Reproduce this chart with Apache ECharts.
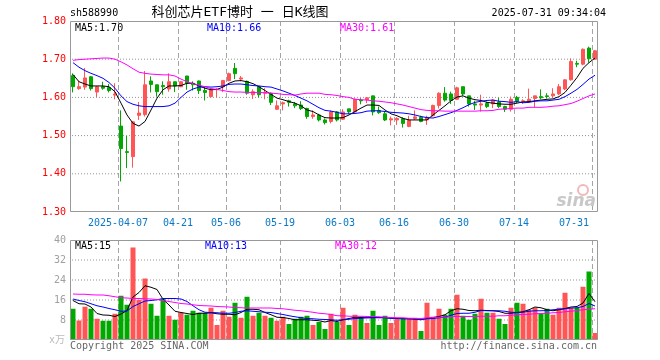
<!DOCTYPE html>
<html><head><meta charset="utf-8">
<script src="https://cdn.jsdelivr.net/npm/echarts@6/dist/echarts.min.js"></script>
<style>html,body{margin:0;padding:0;background:#fff}#c{width:660px;height:360px}</style>
</head><body><div id="c"></div>
<script>
const dates = [
'2025-03-25','2025-03-26','2025-03-27','2025-03-28','2025-03-31',
'2025-04-01','2025-04-02','2025-04-03',
'2025-04-07','2025-04-08','2025-04-09','2025-04-10','2025-04-11',
'2025-04-14','2025-04-15','2025-04-16','2025-04-17','2025-04-18',
'2025-04-21','2025-04-22','2025-04-23','2025-04-24','2025-04-25',
'2025-04-28','2025-04-29','2025-04-30',
'2025-05-06','2025-05-07','2025-05-08','2025-05-09',
'2025-05-12','2025-05-13','2025-05-14','2025-05-15','2025-05-16',
'2025-05-19','2025-05-20','2025-05-21','2025-05-22','2025-05-23',
'2025-05-26','2025-05-27','2025-05-28','2025-05-29','2025-05-30',
'2025-06-03','2025-06-04','2025-06-05','2025-06-06',
'2025-06-09','2025-06-10','2025-06-11','2025-06-12','2025-06-13',
'2025-06-16','2025-06-17','2025-06-18','2025-06-19','2025-06-20',
'2025-06-23','2025-06-24','2025-06-25','2025-06-26','2025-06-27',
'2025-06-30',
'2025-07-01','2025-07-02','2025-07-03','2025-07-04',
'2025-07-07','2025-07-08','2025-07-09','2025-07-10','2025-07-11',
'2025-07-14','2025-07-15','2025-07-16','2025-07-17','2025-07-18',
'2025-07-21','2025-07-22','2025-07-23','2025-07-24','2025-07-25',
'2025-07-28','2025-07-29','2025-07-30','2025-07-31'
];
const tickDates = ['2025-04-07','2025-04-21','2025-05-06','2025-05-19','2025-06-03','2025-06-16','2025-06-30','2025-07-14','2025-07-31'];

const opens = [1.657,1.623,1.627,1.654,1.614,1.628,1.626,1.606,1.525,1.458,
1.445,1.553,1.555,1.643,1.633,1.631,1.622,1.641,1.628,1.656,
1.637,1.643,1.618,1.602,1.620,1.628,1.644,1.676,1.648,1.642,
1.607,1.628,1.611,1.611,1.569,1.583,1.591,1.583,1.580,1.571,
1.550,1.554,1.541,1.537,1.562,1.543,1.570,1.562,1.593,1.594,
1.604,1.566,1.557,1.541,1.541,1.544,1.524,1.545,1.548,1.541,
1.552,1.579,1.611,1.609,1.595,1.628,1.604,1.583,1.580,1.584,
1.583,1.588,1.576,1.569,1.600,1.589,1.590,1.597,1.602,1.604,
1.604,1.609,1.622,1.646,1.689,1.687,1.729,1.700];
const closes = [1.628,1.628,1.651,1.623,1.628,1.624,1.618,1.609,1.466,1.456,
1.536,1.559,1.633,1.634,1.615,1.628,1.641,1.630,1.641,1.637,
1.633,1.618,1.613,1.621,1.621,1.644,1.662,1.662,1.651,1.611,
1.615,1.607,1.613,1.587,1.578,1.586,1.587,1.578,1.571,1.550,
1.554,1.541,1.534,1.562,1.541,1.562,1.562,1.595,1.591,1.599,
1.562,1.560,1.541,1.544,1.545,1.532,1.540,1.549,1.537,1.548,
1.579,1.611,1.593,1.592,1.625,1.609,1.583,1.580,1.583,1.576,
1.593,1.576,1.569,1.595,1.590,1.591,1.595,1.604,1.599,1.602,
1.609,1.628,1.646,1.694,1.687,1.726,1.701,1.722];
const lows = [1.613,1.620,1.620,1.618,1.601,1.620,1.613,1.595,1.380,1.415,
1.416,1.541,1.550,1.613,1.602,1.607,1.615,1.614,1.627,1.620,
1.618,1.609,1.592,1.600,1.600,1.614,1.642,1.648,1.642,1.607,
1.596,1.600,1.595,1.580,1.567,1.566,1.576,1.572,1.567,1.544,
1.544,1.537,1.529,1.532,1.537,1.541,1.557,1.560,1.582,1.585,
1.553,1.557,1.538,1.527,1.528,1.521,1.522,1.541,1.535,1.528,
1.550,1.571,1.589,1.583,1.594,1.604,1.576,1.567,1.563,1.572,
1.572,1.572,1.562,1.563,1.585,1.583,1.586,1.574,1.595,1.597,
1.599,1.606,1.619,1.644,1.679,1.684,1.691,1.698];
const highs = [1.663,1.644,1.677,1.656,1.630,1.641,1.635,1.637,1.566,1.499,
1.538,1.588,1.669,1.655,1.633,1.642,1.663,1.641,1.643,1.656,
1.642,1.644,1.628,1.624,1.624,1.646,1.665,1.690,1.656,1.644,
1.621,1.628,1.624,1.613,1.592,1.589,1.594,1.588,1.590,1.573,
1.566,1.557,1.545,1.566,1.564,1.569,1.570,1.597,1.598,1.600,
1.604,1.576,1.563,1.550,1.548,1.548,1.552,1.566,1.552,1.552,
1.581,1.613,1.627,1.615,1.628,1.628,1.604,1.591,1.607,1.589,
1.595,1.599,1.578,1.602,1.604,1.595,1.623,1.604,1.621,1.611,
1.624,1.635,1.647,1.702,1.696,1.728,1.733,1.724];

const ma5 = [1.660,1.641,1.635,1.630,1.630,1.630,1.628,1.615,1.585,1.554,
1.532,1.525,1.537,1.567,1.598,1.620,1.630,1.630,1.631,1.637,
1.637,1.630,1.624,1.620,1.621,1.627,1.637,1.643,1.644,1.641,
1.636,1.628,1.618,1.608,1.598,1.594,1.589,1.585,1.578,1.567,
1.563,1.554,1.547,1.546,1.546,1.547,1.554,1.563,1.572,1.580,
1.580,1.579,1.567,1.557,1.552,1.545,1.541,1.541,1.541,1.541,
1.554,1.566,1.578,1.591,1.601,1.604,1.598,1.594,1.592,1.587,
1.585,1.583,1.582,1.582,1.585,1.588,1.589,1.591,1.593,1.595,
1.596,1.602,1.613,1.632,1.652,1.676,1.691,1.703];
const ma10 = [1.691,1.679,1.670,1.663,1.657,1.650,1.639,1.624,1.604,1.589,
1.582,1.578,1.576,1.576,1.576,1.576,1.578,1.585,1.600,1.614,
1.622,1.627,1.628,1.627,1.628,1.630,1.634,1.635,1.635,1.633,
1.631,1.630,1.628,1.627,1.622,1.617,1.611,1.605,1.598,1.591,
1.582,1.573,1.566,1.564,1.561,1.557,1.557,1.558,1.560,1.564,
1.565,1.565,1.563,1.561,1.560,1.559,1.557,1.554,1.550,1.547,
1.546,1.550,1.555,1.560,1.566,1.573,1.581,1.587,1.590,1.592,
1.593,1.590,1.589,1.587,1.589,1.586,1.587,1.590,1.591,1.591,
1.593,1.595,1.602,1.611,1.621,1.634,1.648,1.658];
const ma30 = [1.697,1.699,1.700,1.701,1.702,1.703,1.703,1.700,1.693,1.685,
1.675,1.666,1.663,1.661,1.660,1.659,1.659,1.656,1.648,1.641,
1.636,1.632,1.628,1.623,1.621,1.618,1.615,1.614,1.614,1.613,
1.613,1.613,1.612,1.611,1.610,1.608,1.607,1.606,1.609,1.611,
1.611,1.611,1.608,1.607,1.605,1.602,1.600,1.595,1.594,1.593,
1.591,1.590,1.588,1.586,1.583,1.580,1.576,1.572,1.568,1.566,
1.565,1.565,1.564,1.564,1.564,1.564,1.564,1.564,1.565,1.565,
1.566,1.569,1.570,1.571,1.572,1.572,1.574,1.574,1.574,1.575,
1.577,1.578,1.581,1.584,1.590,1.597,1.604,1.609];

const volumes = [12.5,7.8,13.3,12.5,8.5,7.7,7.7,10.5,17.7,14.1,
37.0,16.1,24.6,14.5,9.7,16.5,9.7,8.1,10.9,10.1,
11.7,10.9,10.9,12.9,6.0,11.7,9.3,14.9,8.9,17.3,
9.7,10.9,9.7,8.9,7.7,9.3,6.4,8.5,9.3,9.7,
6.0,7.2,4.4,10.5,7.2,12.9,6.0,10.1,9.3,6.8,
11.7,6.0,9.7,6.8,8.5,8.5,8.5,8.5,3.6,14.9,
9.3,12.5,10.1,12.5,18.1,9.7,8.1,10.5,16.5,10.9,
10.9,8.5,6.4,12.9,14.9,14.5,12.1,12.9,10.5,12.5,
10.1,12.9,18.9,12.9,12.9,21.3,27.4,2.8];
const vma5 = [15.8,14.5,14.4,13.2,10.6,10.0,9.9,9.4,10.4,11.8,
17.2,19.0,21.7,21.1,20.2,16.3,14.0,11.5,11.0,10.6,
10.2,10.7,10.7,10.9,10.5,10.3,10.3,10.1,11.0,12.3,
12.3,12.1,11.0,10.1,9.1,9.0,8.6,8.1,8.1,8.1,
7.9,7.7,7.2,7.8,7.4,8.1,8.6,9.1,9.0,8.9,
9.0,9.0,9.0,8.7,8.6,8.5,8.5,8.3,8.1,8.6,
9.0,9.4,10.1,11.7,12.5,12.3,11.8,11.7,11.9,11.8,
11.7,11.4,10.7,10.7,11.0,11.3,12.1,13.2,12.9,12.1,
11.7,12.1,12.6,13.2,13.4,14.8,18.6,15.3];
const vma10 = [16.4,15.8,15.3,14.5,13.7,13.2,12.6,12.1,11.5,11.6,
13.4,14.5,15.6,15.8,16.1,16.6,16.6,16.6,16.4,15.4,
13.7,12.1,11.1,11.0,10.9,10.7,10.7,11.0,11.5,11.7,
11.5,11.3,11.1,11.0,10.6,10.2,9.7,9.3,8.9,8.6,
8.5,8.3,8.2,8.1,7.9,8.1,8.3,8.6,8.7,8.9,
8.9,8.9,8.9,8.7,8.7,8.6,8.5,8.5,8.3,8.5,
8.6,8.9,9.1,9.9,10.6,10.7,10.7,11.1,11.8,11.7,
11.7,11.7,11.5,11.1,11.0,11.1,11.5,11.7,11.7,11.8,
12.1,12.3,12.5,12.8,12.9,13.4,14.6,13.6];
const vma30 = [18.4,18.3,18.3,18.1,18.0,18.0,17.7,17.3,16.9,16.8,
16.6,16.6,16.5,16.4,16.2,15.8,15.4,15.0,14.6,14.4,
14.1,13.8,13.7,13.6,13.4,13.3,13.2,13.0,12.9,12.8,
12.8,12.8,12.8,12.8,12.6,12.5,12.2,11.9,11.7,11.4,
11.1,10.7,10.5,10.2,9.7,9.7,9.5,9.5,9.5,9.4,
9.4,9.3,9.1,9.0,8.9,8.9,8.7,8.7,8.6,8.9,
9.0,9.1,9.1,9.3,9.4,9.4,9.4,9.4,9.5,9.5,
9.5,9.7,9.7,9.9,10.1,10.2,10.3,10.5,10.6,10.7,
10.9,11.0,11.3,11.5,11.8,12.1,12.3,12.5];

const priceTicks = [1.30,1.40,1.50,1.60,1.70,1.80];
const volTicks = [0,8,16,24,32,40];

const RED = '#ff5555', GREEN = '#00a800';
const MONO = '"DejaVu Sans Mono", "Liberation Mono", monospace';
const tickIdxArr = tickDates.map(d => dates.indexOf(d));
const tickIdx = new Set(tickIdxArr);
const candleData = dates.map((d, i) => [opens[i], closes[i], lows[i], highs[i]]);
const volData = volumes.map((v, i) => ({value: v, itemStyle: {color: closes[i] >= opens[i] ? RED : GREEN}}));
const last = dates.length - 1;
const N = dates.length;

function txt(x, y, text, color, align, font) {
  return {type: 'text', x: x, y: y, silent: true, z: 100,
    style: {text: text, fill: color, font: font || ('10px ' + MONO), align: align || 'left', verticalAlign: 'middle'}};
}
const GL = 70, GW = 528;
const GRIDS = [{top: 21, height: 191, ticks: priceTicks}, {top: 240, height: 100, ticks: volTicks}];

// Grid lines as broken line series (solid pieces separated by gaps), in axis units:
// x in category-index units on a hidden value axis spanning the same bands, y in the panel's value units.
function gridLineSeries(g) {
  const t = GRIDS[g].ticks, lo = t[0], hi = t[t.length - 1];
  const perPxY = (hi - lo) / GRIDS[g].height, perPxX = N / GW;
  const vertical = [];
  tickIdxArr.forEach(i => {
    const xv = i + 0.5 * perPxX;
    for (let p = 0; p < GRIDS[g].height; p += 8) {
      vertical.push([xv, hi - p * perPxY], [xv, hi - Math.min(p + 5, GRIDS[g].height) * perPxY], null);
    }
  });
  const dots = [];
  t.slice(1, -1).forEach(v => {
    for (let p = 2; p < GW - 1; p += 3) {
      dots.push([p * perPxX, v], [(p + 1) * perPxX, v], null);
    }
  });
  return [
    {type: 'line', xAxisIndex: 2 + g, yAxisIndex: g, data: vertical, symbol: 'none', connectNulls: false, silent: true,
      lineStyle: {color: '#a4a4a4', width: 1}, z: 1},
    {type: 'line', xAxisIndex: 2 + g, yAxisIndex: g, data: dots, symbol: 'none', connectNulls: false, silent: true,
      lineStyle: {color: '#959595', width: 1}, z: 1}
  ];
}

const chart = echarts.init(document.getElementById('c'), null, {renderer: 'canvas'});
const option = {
  animation: false,
  backgroundColor: '#fff',
  // grid frames are drawn as plain outlines (no filled grid background) so nothing can cover the grid lines
  grid: GRIDS.map(g => ({left: GL, width: GW, top: g.top, height: g.height, show: false,
    outerBoundsMode: 'none', containLabel: false})),
  xAxis: [
    {type: 'category', gridIndex: 0, data: dates, boundaryGap: true,
      axisLine: {show: false}, axisTick: {show: false},
      axisLabel: {show: true, interval: (i) => tickIdx.has(i), color: '#0a78c8', fontFamily: MONO, fontSize: 10, margin: 6,
        padding: [0, 6, 0, 0], alignMaxLabel: 'right', hideOverlap: false,
        formatter: (v, i) => (i === tickIdxArr[0] ? v : v.slice(5))},
      splitLine: {show: false}},
    {type: 'category', gridIndex: 1, data: dates, boundaryGap: true,
      axisLine: {show: false}, axisTick: {show: false}, axisLabel: {show: false},
      splitLine: {show: false}},
    {type: 'value', gridIndex: 0, min: 0, max: N, show: false},
    {type: 'value', gridIndex: 1, min: 0, max: N, show: false}
  ],
  yAxis: [
    {type: 'value', gridIndex: 0, min: priceTicks[0], max: priceTicks[priceTicks.length - 1], interval: 0.1,
      axisLine: {show: false}, axisTick: {show: false},
      axisLabel: {color: '#ff0000', fontFamily: MONO, fontSize: 10, margin: 4, formatter: v => v.toFixed(2)},
      splitLine: {show: false}},
    {type: 'value', gridIndex: 1, min: volTicks[0], max: volTicks[volTicks.length - 1], interval: 8,
      axisLine: {show: false}, axisTick: {show: false},
      axisLabel: {color: '#a0a0a0', fontFamily: MONO, fontSize: 10, margin: 4, formatter: v => (v === 0 ? '' : String(v))},
      splitLine: {show: false}}
  ],
  series: [
    ...gridLineSeries(0),
    ...gridLineSeries(1),
    {type: 'candlestick', xAxisIndex: 0, yAxisIndex: 0, data: candleData, barWidth: 4,
      itemStyle: {color: RED, color0: GREEN, borderColor: RED, borderColor0: GREEN, borderWidth: 1}, z: 2},
    {type: 'line', xAxisIndex: 0, yAxisIndex: 0, data: ma5, symbol: 'none', lineStyle: {color: '#000', width: 1}, z: 3},
    {type: 'line', xAxisIndex: 0, yAxisIndex: 0, data: ma10, symbol: 'none', lineStyle: {color: '#0000ff', width: 1}, z: 3},
    {type: 'line', xAxisIndex: 0, yAxisIndex: 0, data: ma30, symbol: 'none', lineStyle: {color: '#ff00ff', width: 1}, z: 3},
    {type: 'bar', xAxisIndex: 1, yAxisIndex: 1, data: volData, barWidth: 5, z: 2},
    {type: 'line', xAxisIndex: 1, yAxisIndex: 1, data: vma5, symbol: 'none', lineStyle: {color: '#000', width: 1}, z: 3},
    {type: 'line', xAxisIndex: 1, yAxisIndex: 1, data: vma10, symbol: 'none', lineStyle: {color: '#0000ff', width: 1}, z: 3},
    {type: 'line', xAxisIndex: 1, yAxisIndex: 1, data: vma30, symbol: 'none', lineStyle: {color: '#ff00ff', width: 1}, z: 3}
  ],
  graphic: [
    ...GRIDS.map(g => ({type: 'rect', silent: true, z: 90,
      shape: {x: GL + 0.5, y: g.top + 0.5, width: GW - 1, height: g.height - 1},
      style: {fill: 'none', stroke: '#999999', lineWidth: 1}})),
    txt(70, 13, 'sh588990', '#000'),
    txt(240, 13, '科创芯片ETF博时 一 日K线图', '#000', 'center', '13px "DejaVu Sans Mono", "Noto Sans CJK SC"'),
    txt(606, 13, '2025-07-31 09:34:04', '#000', 'right'),
    txt(75, 28, 'MA5:' + ma5[last].toFixed(2), '#000'),
    txt(207, 28, 'MA10:' + ma10[last].toFixed(2), '#0000ff'),
    txt(340, 28, 'MA30:' + ma30[last].toFixed(2), '#ff00ff'),
    txt(75, 246, 'MA5:' + Math.floor(vma5[last]), '#000'),
    txt(205, 246, 'MA10:' + Math.floor(vma10[last]), '#0000ff'),
    txt(335, 246, 'MA30:' + Math.floor(vma30[last]), '#ff00ff'),
    txt(49, 340, 'x万', '#bbbbbb', 'left', '10px "DejaVu Sans Mono", "Noto Sans CJK SC"'),
    txt(70, 346, 'Copyright 2025 SINA.COM', '#666'),
    txt(597, 346, 'http://finance.sina.com.cn', '#666', 'right'),
    {type: 'circle', shape: {cx: 583, cy: 190, r: 5}, style: {fill: 'none', stroke: '#f0b8b8', lineWidth: 2}, silent: true, z: 1},
    txt(596, 202, 'sina', '#c8c8c8', 'right', 'italic bold 17px "DejaVu Sans", sans-serif')
  ]
};
chart.setOption(option);
</script></body></html>
